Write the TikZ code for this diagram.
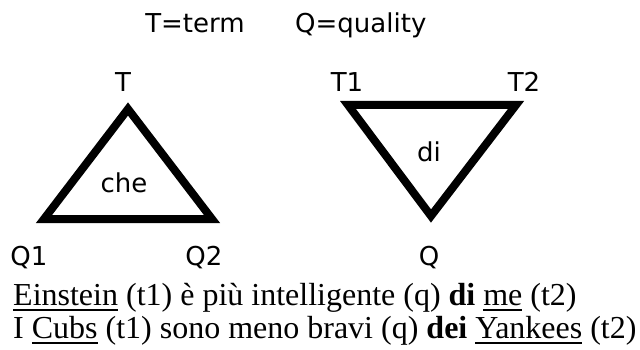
\documentclass[tikz,border=0pt]{standalone}
\usepackage{fontspec}
\setmainfont{Liberation Serif}
\newfontfamily\labfont{DejaVu Sans}
\newlength\ulw
\newcommand\uln[1]{\settowidth\ulw{#1}\rlap{\rule[-5.5pt]{\ulw}{1.8pt}}#1}
\tikzset{
  lab/.style={font=\labfont\fontsize{26}{28}\selectfont, inner sep=0pt, anchor=base},
  tri/.style={draw=black, line width=8pt, line join=miter, miter limit=3},
  sent/.style={font=\fontsize{32}{33}\selectfont, inner sep=0pt, anchor=base west}
}
\begin{document}
\begin{tikzpicture}[x=1pt,y=-1pt]
\useasboundingbox[fill=white] (0,0) rectangle (640,350);
% legend
\node[lab] (legT) at (195,33) {T=term};
\node[lab, anchor=base west] (legQ) at (295,33) {Q=quality};
% left triangle
\coordinate (lA) at (128,109);
\coordinate (lB) at (44,219);
\coordinate (lC) at (212,219);
\draw[tri] (lA) -- (lB) -- (lC) -- cycle;
\node[lab] (lT) at (123,92) {T};
\node[lab] (lQ1) at (29,265) {Q1};
\node[lab] (lQ2) at (204,265) {Q2};
\node[lab] (che) at (124,192) {che};
% right triangle
\coordinate (rA) at (348,105);
\coordinate (rB) at (516,105);
\coordinate (rC) at (431,216);
\draw[tri] (rA) -- (rB) -- (rC) -- cycle;
\node[lab] (rT1) at (347,92) {T1};
\node[lab] (rT2) at (524,92) {T2};
\node[lab] (rQ) at (429,265) {Q};
\node[lab] (di) at (429,162) {di};
% sentences
\node[sent] (s1) at (13,305) {\uln{Einstein} (t1) è più intelligente (q) \textbf{di} \uln{me} (t2)};
\node[sent] (s2) at (13,338) {I \uln{Cubs} (t1) sono meno bravi (q) \textbf{dei} \uln{Yankees} (t2)};
\end{tikzpicture}
\end{document}
